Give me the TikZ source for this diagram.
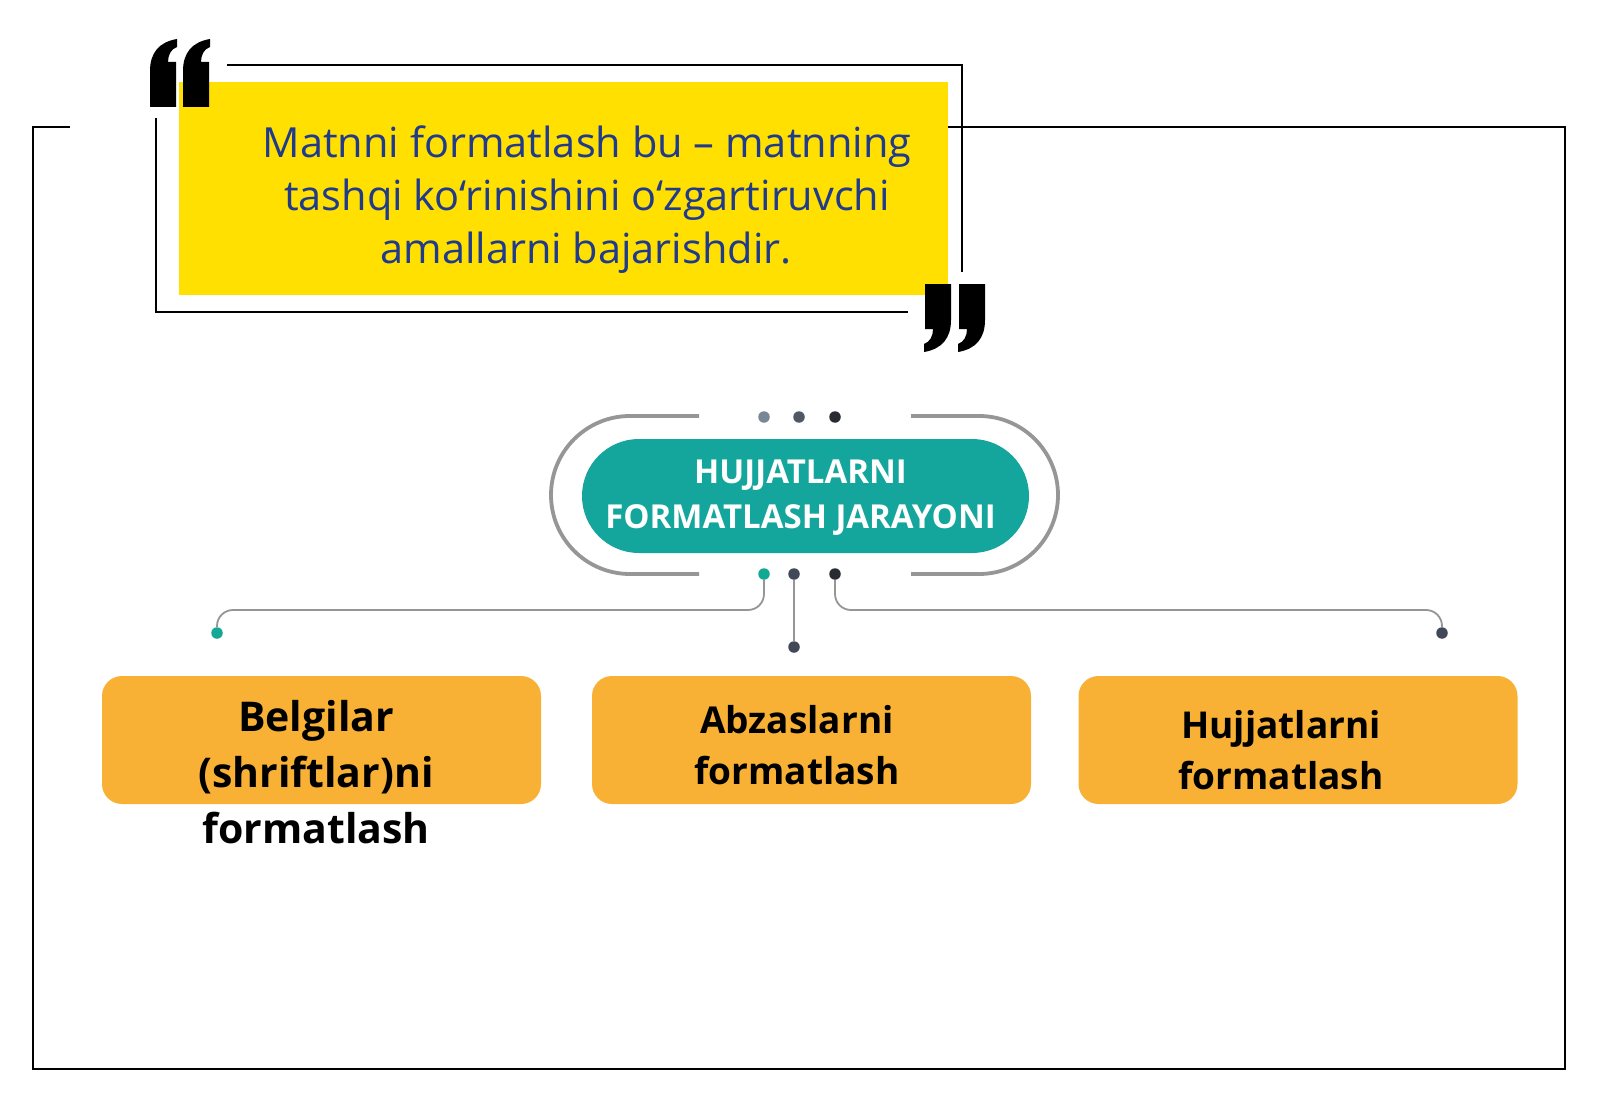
\documentclass[tikz,border=0pt]{standalone}
\usepackage{fontspec}
\setmainfont{Open Sans}
\definecolor{yel}{RGB}{255,224,0}
\definecolor{quoteblue}{RGB}{32,58,140}
\definecolor{tealc}{RGB}{20,166,156}
\definecolor{orangec}{RGB}{248,177,52}
\definecolor{ringgray}{RGB}{150,150,150}
\definecolor{conngray}{RGB}{150,150,150}
\definecolor{dotA}{RGB}{120,135,150}
\definecolor{dotB}{RGB}{80,88,100}
\definecolor{dotC}{RGB}{40,44,50}
\definecolor{dotT}{RGB}{18,168,148}
\definecolor{dotS}{RGB}{65,72,88}
\begin{document}
\begin{tikzpicture}[x=1pt,y=-1pt,
  frame/.style={draw=black,line width=2.2pt},
  yelbox/.style={fill=yel,draw=none,minimum width=769pt,minimum height=213pt,inner sep=0pt},
  quotetext/.style={anchor=base,text=quoteblue,font=\fontsize{41.5}{48}\selectfont,inner sep=0pt},
  hubbox/.style={fill=tealc,draw=none,rounded corners=57pt,minimum width=447pt,minimum height=114pt,inner sep=0pt},
  hubtext/.style={anchor=base,text=white,font=\bfseries\fontsize{33}{38}\selectfont,inner sep=0pt},
  ring/.style={draw=ringgray,line width=3.8pt},
  conn/.style={draw=conngray,line width=1.8pt,rounded corners=16pt},
  dotn/.style={circle,minimum size=11.5pt,inner sep=0pt,draw=none},
  obox/.style={fill=orangec,draw=none,rounded corners=20pt,minimum width=439pt,minimum height=128pt,inner sep=0pt},
  otext/.style={anchor=base,text=black,font=\bfseries\fontsize{37}{44}\selectfont,inner sep=0pt},
  otextbig/.style={anchor=base,text=black,font=\bfseries\fontsize{41}{48}\selectfont,inner sep=0pt},
  qmark/.pic={\fill[black] (0,68) -- (0,32) .. controls (0,14) and (9,3) .. (27,0) -- (27,8) .. controls (21,10) and (18,16) .. (18,23) -- (26,23) -- (26,68) -- cycle;}
]
\useasboundingbox[fill=white] (0,0) rectangle (1600,1107);

% outer frame
\draw[frame] (70,127) -- (33,127) -- (33,1069) -- (1565,1069) -- (1565,127) -- (948,127);
% inner quote frame
\draw[frame] (227,65) -- (962,65) -- (962,272);
\draw[frame] (156,118) -- (156,312) -- (908,312);

% yellow quote box
\node[yelbox] (yelq) at (563.5,188.5) {};
\node[quotetext] (q1) at (587,158) {Matnni formatlash bu – matnning};
\node[quotetext] (q2) at (587,211) {tashqi ko‘rinishini o‘zgartiruvchi};
\node[quotetext] (q3) at (586,264) {amallarni bajarishdir.};

% quote marks
\pic at (150,39) {qmark};
\pic at (183,39) {qmark};
\pic[rotate=180] at (951,352) {qmark};
\pic[rotate=180] at (985,352) {qmark};

% ring around hub
\draw[ring] (699,416) -- (630,416) arc[start angle=270,end angle=90,radius=79] -- (699,574);
\draw[ring] (911,416) -- (979,416) arc[start angle=-90,end angle=90,radius=79] -- (911,574);

% hub
\node[hubbox] (hub) at (805.5,496) {};
\node[hubtext] (h1) at (800.5,483) {HUJJATLARNI};
\node[hubtext] (h2) at (800.5,528) {FORMATLASH JARAYONI};

% dots
\node[dotn,fill=dotA] (t1) at (764,417) {};
\node[dotn,fill=dotB] (t2) at (799,417) {};
\node[dotn,fill=dotC] (t3) at (835,417) {};
\node[dotn,fill=dotT] (b1) at (764,574) {};
\node[dotn,fill=dotS] (b2) at (794,574) {};
\node[dotn,fill=dotC] (b3) at (835,574) {};
\node[dotn,fill=dotT] (e1) at (217,633) {};
\node[dotn,fill=dotS] (e2) at (794,647) {};
\node[dotn,fill=dotS] (e3) at (1442,633) {};

% connectors
\coordinate (hy) at (0,610);
\draw[conn] (b1) -- (b1 |- hy) -- (e1 |- hy) -- (e1);
\draw[conn] (b2) -- (e2);
\draw[conn] (b3) -- (b3 |- hy) -- (e3 |- hy) -- (e3);

% orange boxes
\node[obox] (o1) at (321.5,740) {};
\node[obox] (o2) at (811.5,740) {};
\node[obox] (o3) at (1298,740) {};

\node[otextbig] (o1a) at (316,731) {Belgilar};
\node[otextbig] (o1b) at (316,787) {(shriftlar)ni};
\node[otextbig] (o1c) at (316,843) {formatlash};
\node[otext] (o2a) at (797,733) {Abzaslarni};
\node[otext] (o2b) at (797,784) {formatlash};
\node[otext] (o3a) at (1281,738) {Hujjatlarni};
\node[otext] (o3b) at (1281,789) {formatlash};
\end{tikzpicture}
\end{document}
